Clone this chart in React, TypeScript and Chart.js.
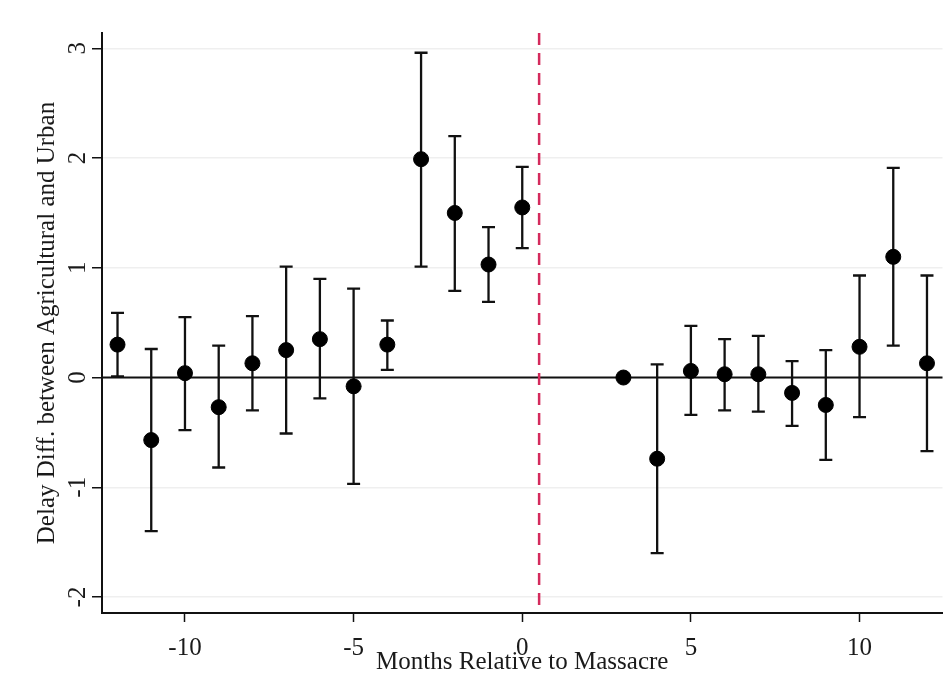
import React, { useEffect, useRef } from "react";
import { Chart, registerables } from "chart.js";

Chart.register(...registerables);

const months = [-12, -11, -10, -9, -8, -7, -6, -5, -4, -3, -2, -1, 0, 3, 4, 5, 6, 7, 8, 9, 10, 11, 12];
const estimates = [0.30, -0.57, 0.04, -0.27, 0.13, 0.25, 0.35, -0.08, 0.30, 1.99, 1.50, 1.03, 1.55, 0.0, -0.74, 0.06, 0.03, 0.03, -0.14, -0.25, 0.28, 1.10, 0.13];
const ciUpper = [0.59, 0.26, 0.55, 0.29, 0.56, 1.01, 0.90, 0.81, 0.52, 2.96, 2.20, 1.37, 1.92, null, 0.12, 0.47, 0.35, 0.38, 0.15, 0.25, 0.93, 1.91, 0.93];
const ciLower = [0.01, -1.40, -0.48, -0.82, -0.30, -0.51, -0.19, -0.97, 0.07, 1.01, 0.79, 0.69, 1.18, null, -1.60, -0.34, -0.30, -0.31, -0.44, -0.75, -0.36, 0.29, -0.67];
const xTicks = [-10, -5, 0, 5, 10];
const yTicks = [-2, -1, 0, 1, 2, 3];
const eventLine = 0.5;
const xTitle = "Months Relative to Massacre";
const yTitle = "Delay Diff. between Agricultural and Urban";

const FAMILY = "'Liberation Serif', 'DejaVu Serif', serif";
const FONT = "25px " + FAMILY;
const TEXT = "#1a1a1a";

const overlayPlugin = {
  id: "overlay",
  beforeDatasetsDraw(chart: any) {
    const { ctx, chartArea, scales } = chart;
    const xs = scales.x;
    const ys = scales.y;
    ctx.save();
    // zero line
    const y0 = ys.getPixelForValue(0);
    ctx.strokeStyle = "#111";
    ctx.lineWidth = 2;
    ctx.beginPath();
    ctx.moveTo(chartArea.left, y0);
    ctx.lineTo(chartArea.right, y0);
    ctx.stroke();
    // event line
    const xe = xs.getPixelForValue(eventLine);
    ctx.strokeStyle = "#d42a5c";
    ctx.lineWidth = 2.5;
    ctx.setLineDash([12, 8]);
    ctx.beginPath();
    ctx.moveTo(xe, chartArea.top);
    ctx.lineTo(xe, chartArea.bottom);
    ctx.stroke();
    ctx.setLineDash([]);
    // error bars
    ctx.strokeStyle = "#111";
    ctx.lineWidth = 2.3;
    months.forEach((m, i) => {
      const hi = ciUpper[i];
      const lo = ciLower[i];
      if (hi === null || lo === null) return;
      const px = xs.getPixelForValue(m);
      const pyH = ys.getPixelForValue(hi);
      const pyL = ys.getPixelForValue(lo);
      ctx.beginPath();
      ctx.moveTo(px, pyH);
      ctx.lineTo(px, pyL);
      ctx.moveTo(px - 6.5, pyH);
      ctx.lineTo(px + 6.5, pyH);
      ctx.moveTo(px - 6.5, pyL);
      ctx.lineTo(px + 6.5, pyL);
      ctx.stroke();
    });
    ctx.restore();
  },
  afterDraw(chart: any) {
    const { ctx, chartArea, scales } = chart;
    const ys = scales.y;
    ctx.save();
    ctx.fillStyle = TEXT;
    ctx.font = FONT;
    ctx.textAlign = "center";
    ctx.textBaseline = "middle";
    // y tick labels, rotated
    ys.ticks.forEach((t: any) => {
      const py = ys.getPixelForValue(t.value);
      ctx.save();
      ctx.translate(78, py);
      ctx.rotate(-Math.PI / 2);
      ctx.fillText(String(t.value), 0, 0);
      ctx.restore();
    });
    // y title
    ctx.save();
    ctx.translate(47, (chartArea.top + chartArea.bottom) / 2);
    ctx.rotate(-Math.PI / 2);
    ctx.fillText(yTitle, 0, 0);
    ctx.restore();
    // x title
    ctx.fillText(xTitle, (chartArea.left + chartArea.right) / 2, 662);
    ctx.restore();
  },
};

export default function App() {
  const ref = useRef<HTMLCanvasElement>(null);
  useEffect(() => {
    if (!ref.current) return;
    const chart = new Chart(ref.current, {
      type: "scatter",
      data: {
        datasets: [
          {
            data: months.map((m, i) => ({ x: m, y: estimates[i] })),
            backgroundColor: "#000",
            borderColor: "#000",
            pointRadius: 7.5,
            pointHoverRadius: 7.5,
          },
        ],
      },
      options: {
        responsive: false,
        animation: false,
        events: [],
        layout: { padding: { left: 92, top: 33, right: 8, bottom: 26 } },
        plugins: { legend: { display: false }, tooltip: { enabled: false } },
        scales: {
          x: {
            type: "linear",
            min: -12.46,
            max: 12.46,
            afterBuildTicks: (axis: any) => {
              axis.ticks = xTicks.map((v) => ({ value: v }));
            },
            grid: { drawOnChartArea: false, tickLength: 9, tickColor: "#111", tickWidth: 1.5 },
            border: { color: "#111", width: 2 },
            ticks: {
              padding: 11,
              color: TEXT,
              font: { family: FAMILY, size: 25 },
              maxRotation: 0,
              callback: (v: any) => String(v),
            },
          },
          y: {
            type: "linear",
            min: -2.146,
            max: 3.14,
            afterBuildTicks: (axis: any) => {
              axis.ticks = yTicks.map((v) => ({ value: v }));
            },
            grid: { color: "#efefef", lineWidth: 1.5, tickLength: 10, tickColor: "#111", tickWidth: 1.5 },
            border: { color: "#111", width: 2 },
            ticks: { display: false },
          },
        },
      },
      plugins: [overlayPlugin],
    });
    return () => chart.destroy();
  }, []);
  return (
    <div style={{ position: "absolute", left: 0, top: 0, width: 951, height: 700, background: "#fff" }}>
      <canvas ref={ref} width={951} height={700} />
    </div>
  );
}
